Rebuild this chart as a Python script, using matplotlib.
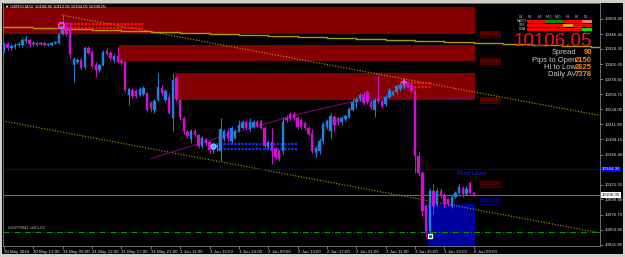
import matplotlib
matplotlib.use("Agg")
import matplotlib.pyplot as plt
from matplotlib.patches import Rectangle

plt.rcParams['font.family'] = ['Liberation Sans', 'DejaVu Sans']

# GER30 M30 bars (bar index 0 = 30 May 15:00)
opens = [10322.5, 10331.5, 10325.5, 10327, 10330, 10330, 10336, 10337.5, 10331.5, 10333,
         10331.5, 10333, 10330, 10330, 10333, 10333, 10346.5, 10357, 10352.5, 10300,
         10304.5, 10307.5, 10297, 10325.5, 10319.5, 10300, 10292.5, 10300, 10321, 10318,
         10307.5, 10313.5, 10306, 10304.5, 10255, 10262.5, 10261, 10255, 10256.5, 10258,
         10243, 10232.5, 10247.5, 10265.5, 10247.5, 10252, 10220.5, 10280.5, 10247.5, 10220.5,
         10201, 10190.5, 10202.5, 10196.5, 10180, 10190.5, 10186, 10174, 10178.5, 10172.5,
         10190.5, 10202.5, 10187.5, 10192, 10202.5, 10207, 10214.5, 10205.5, 10208.5, 10214.5,
         10216, 10207, 10178.5, 10186, 10175.5, 10172.5, 10172.5, 10220.5, 10226.5, 10226.5,
         10220.5, 10217.5, 10213, 10207, 10199.5, 10169.5, 10172.5, 10187.5, 10208.5, 10202.5,
         10222, 10220.5, 10214.5, 10219, 10222, 10232.5, 10244.5, 10249, 10255, 10259.5,
         10244.5, 10232.5, 10249, 10246, 10241.5, 10252, 10255, 10259.5, 10264, 10268.5,
         10273, 10270, 10261, 10165, 10139.5, 10090, 10052.5, 10112.5, 10093, 10112.5,
         10106.5, 10100.5, 10090, 10103.5, 10109.5, 10117, 10108, 10124.5, 10108.85]
highs = [10334.5, 10334.5, 10331.5, 10333, 10334.5, 10340.5, 10343.5, 10339, 10336, 10334.5,
         10334.5, 10334.5, 10333, 10334.5, 10336, 10348, 10375, 10364.5, 10364.5, 10312,
         10310.5, 10312, 10328.5, 10328.5, 10322.5, 10304.5, 10301.5, 10322.5, 10325.5, 10321,
         10316.5, 10327, 10310.5, 10306, 10267, 10265.5, 10264, 10267, 10268.5, 10259.5,
         10246, 10249, 10288, 10270, 10264, 10258, 10288, 10285, 10249, 10223.5,
         10204, 10205.5, 10205.5, 10198, 10195, 10192, 10187.5, 10183, 10183, 10220.5,
         10205.5, 10207, 10210, 10205.5, 10217.5, 10217.5, 10217.5, 10220.5, 10217.5, 10217.5,
         10219, 10210, 10189, 10207, 10178.5, 10175.5, 10222, 10225, 10229.5, 10229.5,
         10223.5, 10220.5, 10216, 10210, 10205.5, 10180, 10192, 10214.5, 10219, 10228,
         10225, 10222, 10223.5, 10226.5, 10237, 10250.5, 10252, 10258, 10259.5, 10262.5,
         10247.5, 10250.5, 10285, 10249, 10255, 10267, 10262.5, 10271.5, 10273, 10277.5,
         10276, 10273, 10265.5, 10172.5, 10142.5, 10093, 10117, 10123, 10117, 10117,
         10109.5, 10102, 10108, 10112.5, 10123, 10120, 10120, 10127.5, 10112.05]
lows = [10318, 10322.5, 10322.5, 10324, 10327, 10327, 10333, 10327, 10328.5, 10328.5,
        10330, 10328.5, 10328.5, 10328.5, 10331.5, 10331.5, 10345, 10343.5, 10310.5, 10274.5,
        10301.5, 10292.5, 10294, 10316.5, 10295.5, 10282, 10289.5, 10298.5, 10315, 10307.5,
        10304.5, 10303, 10300, 10259.5, 10240, 10250.5, 10250.5, 10253.5, 10253.5, 10229.5,
        10229.5, 10228, 10246, 10253.5, 10244.5, 10226.5, 10202.5, 10246, 10217.5, 10198,
        10192, 10184.5, 10193.5, 10177, 10177, 10181.5, 10169.5, 10169.5, 10172.5, 10157.5,
        10187.5, 10187.5, 10184.5, 10190.5, 10201, 10205.5, 10204, 10202.5, 10207, 10208.5,
        10205.5, 10177, 10175.5, 10153, 10160.5, 10157.5, 10168, 10214.5, 10216, 10217.5,
        10205.5, 10205.5, 10204, 10195, 10169.5, 10163.5, 10168, 10183, 10205.5, 10192,
        10202.5, 10211.5, 10211.5, 10216, 10220.5, 10231, 10235.5, 10246, 10240, 10241.5,
        10234, 10222, 10243, 10235.5, 10238.5, 10250.5, 10253.5, 10256.5, 10261, 10264,
        10265.5, 10258, 10139.5, 10135, 10075, 10043.5, 10043.5, 10078, 10090, 10102,
        10087, 10090, 10087, 10102, 10108, 10103.5, 10106.5, 10108, 10104.05]
closes = [10331.5, 10325.5, 10328.5, 10330, 10331.5, 10337.5, 10339, 10331.5, 10333, 10330,
          10333, 10330, 10331.5, 10333, 10334.5, 10346.5, 10358.5, 10346.5, 10316.5, 10309,
          10307.5, 10295.5, 10325.5, 10318, 10298.5, 10292.5, 10300, 10319.5, 10316.5, 10310.5,
          10313.5, 10304.5, 10303, 10262.5, 10264, 10253.5, 10253.5, 10264, 10265.5, 10232.5,
          10235.5, 10246, 10267, 10258, 10261, 10228, 10277.5, 10249, 10222, 10202.5,
          10195, 10202.5, 10196.5, 10180, 10192, 10184.5, 10174, 10180, 10181.5, 10205.5,
          10202.5, 10192, 10207, 10202.5, 10211.5, 10214.5, 10207, 10214.5, 10214.5, 10210,
          10207, 10180, 10186, 10172.5, 10163.5, 10160.5, 10214.5, 10217.5, 10219, 10220.5,
          10208.5, 10208.5, 10207, 10198, 10172.5, 10177, 10187.5, 10211.5, 10216, 10223.5,
          10211.5, 10214.5, 10220.5, 10223.5, 10234, 10244.5, 10249, 10255, 10243, 10244.5,
          10237, 10247.5, 10246, 10238.5, 10252, 10262.5, 10259.5, 10268.5, 10270, 10273,
          10268.5, 10261, 10165, 10139.5, 10082.5, 10052.5, 10112.5, 10090, 10112.5, 10105,
          10093, 10093, 10103.5, 10109.5, 10118.5, 10108, 10115.5, 10109.5, 10106.05]

tick_bars = [0, 8, 16, 24, 32, 40, 48, 56, 64, 72, 80, 88, 96, 104, 112, 120, 128]
tick_labels = ["30 May 2016", "30 May 19:00", "31 May 09:00", "31 May 13:00", "31 May 17:00",
               "31 May 21:00", "1 Jun 11:00", "1 Jun 15:00", "1 Jun 19:00", "2 Jun 09:00",
               "2 Jun 13:00", "2 Jun 17:00", "2 Jun 21:00", "3 Jun 11:00", "3 Jun 15:00",
               "3 Jun 19:00", "6 Jun 09:00"]
price_ticks = [10369.20, 10346.45, 10324.35, 10301.60, 10278.85, 10256.75, 10234.00, 10211.90,
               10189.15, 10166.40, 10121.55, 10099.80, 10076.70, 10053.95, 10031.85]

# supply / demand zones: (left bar, right bar, low, high)
red_zones = [(-2, 128.3, 10346.5, 10387.0), (31.3, 128.3, 10306.0, 10330.0), (46.6, 128.3, 10248.5, 10288.0)]
red_zone_labels = ["10346.45", "10306.40", "10248.65"]
blue_zone = (115.6, 128.3, 10000.0, 10093.0)

pivot = 10144.30
bid = 10106.05
sell_price = 10050.25

channel_upper = ([15.8, 162.4], [10375.0, 10225.0])
channel_lower = ([-1.0, 162.4], [10217.5, 10049.5])
step_bars = [-1, 8, 16, 24, 32, 40, 48, 56, 64, 72, 80, 88, 96, 104, 112, 120, 128, 136, 144, 152, 160, 163]
step_levels = [10357, 10355.5, 10354, 10352.5, 10351, 10349.5, 10348, 10346.5, 10345, 10343.5, 10342,
               10340.5, 10339, 10337.5, 10336, 10334.5, 10333, 10331.5, 10330, 10328.5, 10327.5, 10327.5]
ma_bars = [40, 62, 81, 94, 102, 113, 124, 128]
ma_vals = [10160.5, 10198, 10228, 10244.5, 10252, 10252, 10250.5, 10250]

red_levels = ([15.3, 37.9], [10361.5, 10355.5])
blue_levels = ([57, 79.8], [10183, 10175.5])
red_levels2 = ([108, 116.6], [10273, 10267])

fig = plt.figure(figsize=(6.25, 2.57), dpi=100, facecolor='#d4d0c8')
fig.patches.append(Rectangle((2 / 625, 1 - 254 / 257), 621 / 625, 251 / 257,
                             transform=fig.transFigure, facecolor='black', edgecolor='none', zorder=-5))
ax = fig.add_axes([3 / 625, 1 - 246 / 257, 597 / 625, 243 / 257])
ax.set_facecolor('black')
ax.set_xlim(-0.27, 162.4)
ax.set_ylim(10029.9, 10393.1)

for x0, x1, lo, hi in red_zones:
    ax.add_patch(Rectangle((x0, lo), x1 - x0, hi - lo, facecolor='#840000', edgecolor='none', zorder=1))
for (x0, x1, lo, hi), txt in zip(red_zones, red_zone_labels):
    ax.text(130, lo, txt, color='#a00000', fontsize=3.2, va='center', ha='left', zorder=6,
            bbox=dict(facecolor='#3a0000', edgecolor='#700000', pad=0.6, lw=0.4))
x0, x1, lo, hi = blue_zone
ax.add_patch(Rectangle((x0, lo), x1 - x0, hi - lo, facecolor='#00009c', edgecolor='none', zorder=1))

ax.plot(step_bars, step_levels, drawstyle='steps-post', color='#b49600', lw=1.0, zorder=2)
ax.plot(*channel_upper, color='#c8a000', lw=0.8, ls=(0, (1, 1.5)), zorder=2)
ax.plot(*channel_lower, color='#a8a000', lw=0.8, ls=(0, (1, 1.5)), zorder=2)
ax.plot(ma_bars, ma_vals, color='#7a007a', lw=0.8, zorder=2)

ax.axhline(pivot, color='#0000a0', lw=0.8, zorder=2)
ax.axhline(bid, color='#808080', lw=0.6, zorder=2)
ax.axhline(sell_price, color='#00a000', lw=0.7, ls=(0, (6, 2, 1, 2)), zorder=2)
ax.text(1, sell_price + 3, "#30279941 sell 1.00", color='#c0c0c0', fontsize=3, va='bottom', zorder=6)
ax.text(123.5, pivot - 2.5, "Pivot Level", color='#2020ff', fontsize=4.2, va='top', zorder=6)
ax.text(130, 10122.5, "10125.00", color='#a00000', fontsize=3.2, va='center', zorder=6,
        bbox=dict(facecolor='#200000', edgecolor='#700000', pad=0.6, lw=0.4))
ax.text(130, 10097.5, "10093.00", color='#1010c0', fontsize=3.2, va='center', zorder=6,
        bbox=dict(facecolor='#000020', edgecolor='#0000a0', pad=0.6, lw=0.4))

for xs, ys, col in [(red_levels[0], red_levels[1], '#ff1010'), (blue_levels[0], blue_levels[1], '#1030ff'),
                    (red_levels2[0], red_levels2[1], '#ff1010')]:
    for y in ys:
        ax.plot(xs, [y, y], color=col, lw=1.6, ls=(0, (1, 0.6)), zorder=3)

# candles
for i, (o, h, l, c) in enumerate(zip(opens, highs, lows, closes)):
    col = '#1e80e0' if c >= o else '#d010d0'
    ax.vlines(i, l, h, color=col, lw=0.7, zorder=4)
    ax.add_patch(Rectangle((i - 0.33, min(o, c)), 0.66, max(abs(c - o), 0.6),
                           facecolor=col, edgecolor=col, lw=0.3, zorder=4))

ax.plot([15.5], [10360], marker='o', ms=4, mfc='none', mec='#ff40ff', mew=1.2, zorder=5)
ax.plot([57], [10180], marker='o', ms=3.5, mfc='#40a0ff', mec='#a0d0ff', mew=0.8, zorder=5)
ax.plot([109], [10275], marker='+', ms=5, mec='#ff40ff', mew=1.2, zorder=5)
ax.plot([116], [10045], marker='s', ms=3, mfc='none', mec='white', mew=1.0, zorder=5)

ax.set_xticks(tick_bars)
ax.set_xticklabels(tick_labels, fontsize=3.2, color='#e0e0e0', ha='left')
ax.yaxis.tick_right()
ax.set_yticks(price_ticks)
ax.set_yticklabels([f"{p:.2f}" for p in price_ticks], fontsize=3.2, color='#e0e0e0')
ax.tick_params(axis='both', length=2, width=0.5, color='#a0a0a0', pad=1)
for s in ax.spines.values():
    s.set_color('#808080')
    s.set_linewidth(0.6)

ax.text(162.8, pivot, "10144.30", transform=ax.transData, fontsize=3.2, color='white', va='center',
        ha='left', bbox=dict(facecolor='#0000ff', edgecolor='none', pad=0.6), clip_on=False)
ax.text(162.8, bid, "10106.05", transform=ax.transData, fontsize=3.2, color='black', va='center',
        ha='left', bbox=dict(facecolor='white', edgecolor='none', pad=0.6), clip_on=False)

def fx(px):
    return px / 625

def fy(py):
    return 1 - py / 257

fig.text(fx(5), fy(7), "\u25bc GER30,M30  10108.85 10112.05 10104.05 10106.05", fontsize=3, color='white', va='center')
fig.text(fx(592), fy(41), "10106.05", fontsize=13.5, color='#ff1010', ha='right', va='center')
info = [("Spread", "90"), ("Pips to Open", "2150"), ("Hi to Low", "2625"), ("Daily AV", "7378")]
for k, (lab, val) in enumerate(info):
    yy = 53 + k * 7.3
    fig.text(fx(576), fy(yy), lab, fontsize=5.5, color='#c8c8c8', ha='right', va='center')
    fig.text(fx(592), fy(yy), val, fontsize=5.5, color='#ff8c00', ha='right', va='center', weight='bold')

# mini signal table
heads = ["Cd", "M1", "M5", "M15", "M30", "H1", "H4", "D1"]
for k, hname in enumerate(heads):
    fig.text(fx(521 + k * 9.3), fy(16.7), hname, fontsize=2.4, color='#c0c0c0', ha='center', va='center')
rows = [("MACD", [('#ff0000', 18), ('#009000', 18), ('#ff0000', 19), ('#ff7070', 10)]),
        ("STR", [('#ff0000', 36), ('#e0a000', 10), ('#ff0000', 19)]),
        ("EMA", [('#ff0000', 55), ('#00e000', 10)])]
for r, (name, segs) in enumerate(rows):
    yy = 21.3 + r * 4
    fig.text(fx(522), fy(yy), name, fontsize=2.4, color='#c0c0c0', ha='center', va='center')
    xx = 527
    for col, w in segs:
        fig.patches.append(Rectangle((fx(xx), fy(yy + 1.4)), w / 625, 2.8 / 257,
                                     transform=fig.transFigure, facecolor=col, edgecolor='none'))
        xx += w

fig.savefig("out.png", dpi=100, facecolor=fig.get_facecolor())
